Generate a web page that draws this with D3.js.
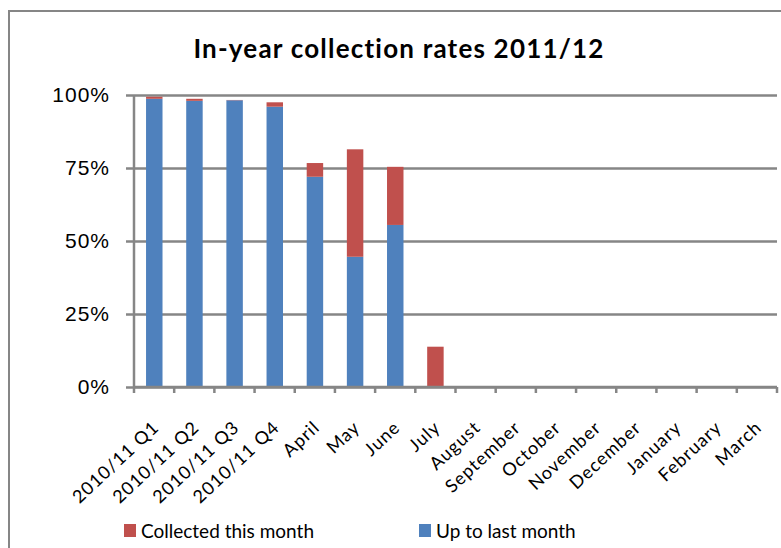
<!DOCTYPE html>
<html>
<head>
<meta charset="utf-8">
<script src="https://cdn.jsdelivr.net/npm/d3@7"></script>
<style>
    body { margin: 0; background: #ffffff; }
    svg { display: block; font-family: Lato, "Open Sans", sans-serif; font-variant-ligatures: none; }
</style>
</head>
<body>
<div class="chart-collection"></div>
<script>
// categories along the x axis
let categories = ['2010/11 Q1', '2010/11 Q2', '2010/11 Q3', '2010/11 Q4', 'April', 'May', 'June',
    'July', 'August', 'September', 'October', 'November', 'December', 'January', 'February', 'March'];

// percentages
let upToLastMonth = [98.7, 98.0, 98.2, 96.0, 72.0, 44.6, 55.5, 0, 0, 0, 0, 0, 0, 0, 0, 0];
let collectedThisMonth = [0.7, 0.7, 0.1, 1.5, 4.7, 36.8, 19.9, 13.8, 0, 0, 0, 0, 0, 0, 0, 0];

let yTicks = [0, 25, 50, 75, 100];

let seriesNames = ['Collected this month', 'Up to last month'];
let seriesColors = ['#c0504d', '#4f81bd'];

let width = 781, height = 548;
let chartMargins = {top: 95, right: 4, bottom: 161, left: 134};
let innerWidth = width - chartMargins.left - chartMargins.right,
    innerHeight = height - chartMargins.top - chartMargins.bottom;

let svg = d3.select('.chart-collection').append('svg')
    .attr('width', width)
    .attr('height', height);

// outer chart frame (runs past the picture on the right and bottom)
svg.append('rect')
    .attr('x', 9)
    .attr('y', 11)
    .attr('width', width + 20)
    .attr('height', height + 20)
    .attr('fill', 'none')
    .attr('stroke', '#868686')
    .attr('stroke-width', 2);

svg.append('text')
    .text('In-year collection rates 2011/12')
    .attr('x', 399)
    .attr('y', 58)
    .attr('text-anchor', 'middle')
    .attr('font-size', 26)
    .attr('letter-spacing', 1.2)
    .attr('font-weight', 'bold')
    .attr('fill', '#000');

let chartLayer = svg.append('g')
    .attr('transform', 'translate(' + chartMargins.left + ',' + chartMargins.top + ')');

let x = d3.scaleBand().domain(categories).range([0, innerWidth]).paddingInner(0.59).paddingOuter(0.3);
let xTicks = d3.scaleBand().domain(categories).range([0, innerWidth]);
let y = d3.scaleLinear().domain([0, 100]).range([innerHeight, 0]);

// gridlines + y axis
let yAxisGroup = chartLayer.append('g')
    .call(d3.axisLeft(y).tickValues(yTicks).tickSize(8).tickPadding(16).tickFormat(function(d) { return d + '%'; }));
yAxisGroup.select('.domain').remove();
yAxisGroup.selectAll('.tick line')
    .attr('stroke', '#868686')
    .attr('stroke-width', 2.5)
    .attr('x1', -8)
    .attr('x2', innerWidth);
yAxisGroup.selectAll('text')
    .attr('font-size', 21)
    .attr('letter-spacing', 1)
    .attr('fill', '#000');

// stacked bars
let stacked = d3.stack().keys([1, 0]).value(function(d, k) { return k === 1 ? d.up : d.collected; })(
    categories.map(function(c, i) { return {cat: c, up: upToLastMonth[i], collected: collectedThisMonth[i]}; }));

stacked.forEach(function(layer) {
    chartLayer.selectAll('.bar' + layer.key)
        .data(layer)
        .enter().append('rect')
        .attr('x', function(d) { return x(d.data.cat); })
        .attr('y', function(d) { return y(d[1]); })
        .attr('width', x.bandwidth())
        .attr('height', function(d) { return y(d[0]) - y(d[1]); })
        .attr('fill', seriesColors[layer.key]);
});

// y axis line
chartLayer.append('line')
    .attr('x1', 0).attr('x2', 0)
    .attr('y1', 0).attr('y2', innerHeight + 6)
    .attr('stroke', '#868686')
    .attr('stroke-width', 2.5);

// x axis with ticks on band edges
let xAxisGroup = chartLayer.append('g')
    .attr('transform', 'translate(0,' + innerHeight + ')');
xAxisGroup.append('line')
    .attr('x1', 0).attr('x2', innerWidth)
    .attr('stroke', '#868686')
    .attr('stroke-width', 2.5);
xAxisGroup.selectAll('.edge')
    .data(categories.slice(1).concat(['end']))
    .enter().append('line')
    .attr('x1', function(d, i) { return xTicks.step() * (i + 1); })
    .attr('x2', function(d, i) { return xTicks.step() * (i + 1); })
    .attr('y1', 0)
    .attr('y2', 6)
    .attr('stroke', '#868686')
    .attr('stroke-width', 2.5);
xAxisGroup.selectAll('.label')
    .data(categories)
    .enter().append('text')
    .attr('transform', function(d) {
        return 'translate(' + (xTicks(d) + xTicks.bandwidth() / 2 + 6) + ',42) rotate(-43)';
    })
    .attr('text-anchor', 'end')
    .attr('font-size', 18)
    .attr('letter-spacing', 1)
    .attr('fill', '#000')
    .text(function(d) { return d; });

// legend
let legend = svg.append('g').attr('transform', 'translate(124,524)');
let legendX = [0, 295];
seriesNames.forEach(function(name, i) {
    legend.append('rect')
        .attr('x', legendX[i])
        .attr('y', 0)
        .attr('width', 12)
        .attr('height', 13)
        .attr('fill', seriesColors[i]);
    legend.append('text')
        .attr('x', legendX[i] + 17)
        .attr('y', 14)
        .attr('font-size', 19)
        .attr('fill', '#000')
        .text(name);
});
</script>
</body>
</html>
